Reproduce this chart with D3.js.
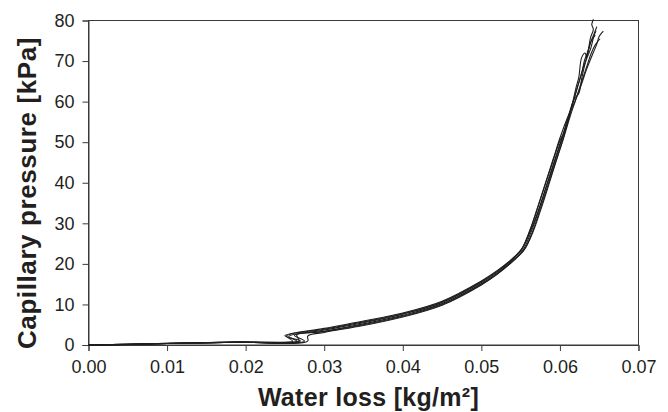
<!DOCTYPE html>
<html>
<head>
<meta charset="utf-8">
<script src="https://cdn.jsdelivr.net/npm/d3@7/dist/d3.min.js"></script>
<style>
  html, body { margin: 0; padding: 0; background: #fff; }
  svg { display: block; }
  text { font-family: "Liberation Sans", Arial, Helvetica, sans-serif; fill: #231f20; }
</style>
</head>
<body>
<svg id="chart" width="668" height="412"></svg>
<script>
// Capillary pressure vs. water loss: repeated drying runs, [loss kg/m², pressure kPa]
const runA = [[0,0],[0.005,0.15],[0.010,0.38],[0.019,0.70],[0.0279,0.95],[0.0279,2.2],[0.030,3.1],[0.035,4.8],[0.040,6.9],[0.045,9.8],[0.050,14.8],[0.052,17.4],[0.0542,21.0],[0.0553,23.4],[0.0564,28.2],[0.0573,33.2],[0.0583,39.2],[0.0593,45.0],[0.0603,51.0],[0.0611,56.0],[0.0617,60.0],[0.0623,64.0],[0.0629,68.0],[0.0634,70.9],[0.0637,73.7],[0.0639,75.8],[0.06425,77.8],[0.06405,79.0],[0.06427,80.3]];
const runB = [[0,0],[0.005,0.18],[0.010,0.40],[0.019,0.72],[0.0270,1.0],[0.0250,2.3],[0.030,4.1],[0.035,5.9],[0.040,7.9],[0.045,10.8],[0.050,15.8],[0.052,18.3],[0.0543,21.9],[0.0552,23.9],[0.0562,28.4],[0.0571,33.6],[0.0581,39.6],[0.0591,45.6],[0.0601,51.6],[0.0610,56.2],[0.0619,60.0],[0.0627,64.0],[0.0634,68.0],[0.06425,72.1],[0.06468,74.1],[0.0650,76.1],[0.06552,77.4]];
const runC = [[0,0],[0.005,0.14],[0.010,0.36],[0.019,0.68],[0.0265,0.9],[0.0255,2.1],[0.030,3.7],[0.035,5.5],[0.040,7.6],[0.045,10.5],[0.050,15.4],[0.052,17.9],[0.0542,21.5],[0.0551,23.4],[0.0561,27.8],[0.0570,32.8],[0.0580,38.8],[0.0590,44.6],[0.0600,50.4],[0.0607,53.1],[0.0614,58.0],[0.0621,63.8],[0.0624,66.0],[0.06277,70.9],[0.0632,72.0],[0.0634,71.0],[0.0638,74.0],[0.0644,77.0],[0.0647,78.5]];
const runD = [[0,0],[0.005,0.16],[0.010,0.37],[0.019,0.71],[0.0275,0.97],[0.0262,2.4],[0.030,3.4],[0.035,5.2],[0.040,7.3],[0.045,10.2],[0.050,15.1],[0.052,17.6],[0.0544,21.5],[0.0555,23.6],[0.0566,28.0],[0.0575,33.0],[0.0585,39.0],[0.0595,45.2],[0.0605,51.2],[0.0613,56.4],[0.0620,60.4],[0.0626,64.0],[0.0633,68.0],[0.0640,72.0],[0.0645,74.0],[0.0651,75.5]];
const runE = [[0,0],[0.005,0.17],[0.010,0.39],[0.019,0.73],[0.0260,0.92],[0.0252,2.2],[0.030,3.9],[0.035,5.7],[0.040,7.7],[0.045,10.6],[0.050,15.6],[0.052,18.1],[0.0542,21.7],[0.0552,23.8],[0.0563,28.3],[0.0573,33.4],[0.0583,39.4],[0.0593,45.4],[0.0603,51.4],[0.0611,56.6],[0.0618,60.6],[0.0624,62.0],[0.0628,66.0],[0.0633,70.0],[0.0639,73.0],[0.0643,76.0],[0.0646,77.5]];
const runF = [[0,0],[0.005,0.15],[0.010,0.37],[0.019,0.69],[0.0268,0.96],[0.0265,2.5],[0.030,3.3],[0.035,5.0],[0.040,7.1],[0.045,10.0],[0.050,15.0],[0.052,17.5],[0.0543,21.2],[0.0554,23.3],[0.0565,27.9],[0.0574,33.0],[0.0584,39.0],[0.0594,44.8],[0.0604,50.8],[0.0610,55.2],[0.0616,59.4],[0.0622,63.4],[0.0628,67.2],[0.0631,70.0],[0.0636,72.6],[0.0640,75.0],[0.0645,76.4]];

const runs = [runA, runB, runC, runD, runE, runF];

const xTicks = [0, 0.01, 0.02, 0.03, 0.04, 0.05, 0.06, 0.07];
const yTicks = [0, 10, 20, 30, 40, 50, 60, 70, 80];
const xTitle = "Water loss [kg/m²]";
const yTitle = "Capillary pressure [kPa]";

const W = 668, H = 412;
const margin = { top: 20.5, right: 29.5, bottom: 67, left: 88.5 };
const iw = W - margin.left - margin.right;
const ih = H - margin.top - margin.bottom;

const svg = d3.select("#chart");
const g = svg.append("g").attr("transform", `translate(${margin.left},${margin.top})`);

const x = d3.scaleLinear().domain([0, 0.07]).range([0, iw]);
const y = d3.scaleLinear().domain([0, 80]).range([ih, 0]);

// frame
g.append("rect")
  .attr("x", 0).attr("y", 0).attr("width", iw).attr("height", ih)
  .attr("fill", "none").attr("stroke", "#3a3a3a").attr("stroke-width", 1);

// axes
const xAxis = g.append("g").attr("transform", `translate(0,${ih})`)
  .call(d3.axisBottom(x).tickValues(xTicks).tickFormat(d3.format(".2f")).tickSize(6).tickPadding(9));
const yAxis = g.append("g")
  .call(d3.axisLeft(y).tickValues(yTicks).tickFormat(d3.format("d")).tickSize(6).tickPadding(8));

[xAxis, yAxis].forEach(a => {
  a.select(".domain").attr("stroke", "#3a3a3a");
  a.selectAll(".tick line").attr("stroke", "#3a3a3a");
  a.selectAll(".tick text")
    .attr("fill", "#231f20")
    .style("font-size", "18px")
    .style("font-family", "'Liberation Sans', Arial, sans-serif");
});

// measured curves
const line = d3.line()
  .x(d => x(d[0]))
  .y(d => y(d[1]))
  .curve(d3.curveCatmullRom.alpha(0.5));

g.append("g").selectAll("path")
  .data(runs)
  .join("path")
  .attr("d", line)
  .attr("fill", "none")
  .attr("stroke", "#1e1e1e")
  .attr("stroke-width", 1.1)
  .attr("stroke-linejoin", "round");

// axis titles
svg.append("text")
  .attr("x", margin.left + iw / 2 + 5)
  .attr("y", 406)
  .attr("text-anchor", "middle")
  .style("font-size", "25px")
  .style("font-weight", "bold")
  .style("letter-spacing", "0.3px")
  .text(xTitle);

svg.append("text")
  .attr("transform", `translate(36,193) rotate(-90)`)
  .attr("text-anchor", "middle")
  .style("font-size", "26px")
  .style("font-weight", "bold")
  .style("letter-spacing", "0.6px")
  .text(yTitle);
</script>
</body>
</html>
